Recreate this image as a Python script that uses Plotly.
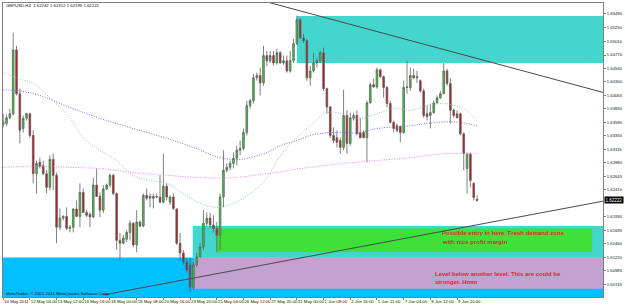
import plotly.graph_objects as go

# ---------------- data ----------------
symbol_title = "GBPUSD,H4  1.62242 1.62312 1.62199 1.62222"
copyright_text = "MetaTrader, © 2001-2011 MetaQuotes Software Corp."

bars = list(range(143))
open_ = [1.6355, 1.6357, 1.6367, 1.6374, 1.6486, 1.6409, 1.6348, 1.6366, 1.6374, 1.6336,
         1.6269, 1.6289, 1.6283, 1.6269, 1.6245, 1.6294, 1.6266, 1.6175, 1.6191, 1.6194,
         1.6173, 1.6175, 1.6207, 1.6194, 1.6236, 1.6201, 1.6198, 1.6193, 1.6249, 1.6229,
         1.6205, 1.6242, 1.6249, 1.6266, 1.6234, 1.6152, 1.6147, 1.6154, 1.6166, 1.6182,
         1.6144, 1.6184, 1.6177, 1.6231, 1.6229, 1.6229, 1.6229, 1.6228, 1.6219, 1.6247,
         1.6219, 1.6228, 1.6207, 1.6147, 1.6130, 1.6114, 1.6109, 1.6070, 1.6109, 1.6124,
         1.6140, 1.6182, 1.6191, 1.6179, 1.6173, 1.6161, 1.6228, 1.6275, 1.6280, 1.6287,
         1.6296, 1.6310, 1.6313, 1.6341, 1.6388, 1.6397, 1.6437, 1.6441, 1.6428, 1.6476,
         1.6467, 1.6476, 1.6463, 1.6481, 1.6463, 1.6467, 1.6449, 1.6467, 1.6497, 1.6539,
         1.6507, 1.6502, 1.6437, 1.6449, 1.6463, 1.6467, 1.6481, 1.6418, 1.6386, 1.6336,
         1.6332, 1.6327, 1.6315, 1.6371, 1.6322, 1.6366, 1.6371, 1.6341, 1.6341, 1.6332,
         1.6393, 1.6425, 1.6421, 1.6451, 1.6439, 1.6420, 1.6392, 1.6359, 1.6353, 1.6352,
         1.6341, 1.6420, 1.6420, 1.6441, 1.6437, 1.6432, 1.6414, 1.6374, 1.6371, 1.6376,
         1.6393, 1.6402, 1.6409, 1.6449, 1.6427, 1.6380, 1.6374, 1.6374, 1.6339, 1.6278,
         1.6303, 1.6252, 1.62242]
high = [1.6374, 1.6373, 1.6383, 1.6516, 1.6493, 1.6418, 1.6371, 1.6376, 1.6376, 1.6345,
        1.6292, 1.6297, 1.6292, 1.6275, 1.6301, 1.6304, 1.6271, 1.6208, 1.6196, 1.6210,
        1.6179, 1.6208, 1.6222, 1.6252, 1.6243, 1.6205, 1.6201, 1.6262, 1.6278, 1.6236,
        1.6249, 1.6252, 1.6269, 1.6269, 1.6236, 1.6165, 1.6161, 1.6170, 1.6187, 1.6184,
        1.6205, 1.6187, 1.6234, 1.6243, 1.6234, 1.6234, 1.6234, 1.6266, 1.6304, 1.6252,
        1.6231, 1.6234, 1.6208, 1.6165, 1.6135, 1.6121, 1.6121, 1.6114, 1.6130, 1.6147,
        1.6205, 1.6201, 1.6200, 1.6196, 1.6184, 1.6234, 1.6310, 1.6287, 1.6292, 1.6306,
        1.6318, 1.6327, 1.6348, 1.6397, 1.6400, 1.6444, 1.6446, 1.6455, 1.6493, 1.6484,
        1.6484, 1.6484, 1.6488, 1.6484, 1.6476, 1.6476, 1.6484, 1.6505, 1.6546, 1.6542,
        1.6514, 1.6505, 1.6458, 1.6481, 1.6472, 1.6484, 1.6490, 1.6420, 1.6388, 1.6350,
        1.6345, 1.6332, 1.6416, 1.6380, 1.6376, 1.6376, 1.6380, 1.6367, 1.6345, 1.6397,
        1.6428, 1.6435, 1.6455, 1.6453, 1.6441, 1.6423, 1.6397, 1.6362, 1.6357, 1.6353,
        1.6432, 1.6467, 1.6455, 1.6453, 1.6449, 1.6434, 1.6418, 1.6388, 1.6392, 1.6397,
        1.6406, 1.6414, 1.6463, 1.6453, 1.6437, 1.6383, 1.6380, 1.6376, 1.6341, 1.6306,
        1.6306, 1.6254, 1.62312]
low = [1.6350, 1.6353, 1.6364, 1.6371, 1.6406, 1.6322, 1.6341, 1.6362, 1.6332, 1.6252,
       1.6234, 1.6278, 1.6266, 1.6234, 1.6240, 1.6240, 1.6147, 1.6170, 1.6187, 1.6170,
       1.6166, 1.6166, 1.6193, 1.6175, 1.6200, 1.6193, 1.6175, 1.6191, 1.6228, 1.6193,
       1.6200, 1.6240, 1.6245, 1.6231, 1.6135, 1.6117, 1.6145, 1.6149, 1.6152, 1.6140,
       1.6131, 1.6175, 1.6175, 1.6222, 1.6210, 1.6208, 1.6226, 1.6217, 1.6217, 1.6222,
       1.6214, 1.6205, 1.6144, 1.6117, 1.6109, 1.6096, 1.6061, 1.6065, 1.6105, 1.6121,
       1.6135, 1.6177, 1.6173, 1.6166, 1.6131, 1.6135, 1.6210, 1.6271, 1.6275, 1.6278,
       1.6283, 1.6301, 1.6310, 1.6336, 1.6383, 1.6392, 1.6432, 1.6406, 1.6423, 1.6458,
       1.6463, 1.6458, 1.6460, 1.6462, 1.6460, 1.6446, 1.6446, 1.6463, 1.6495, 1.6505,
       1.6498, 1.6432, 1.6423, 1.6446, 1.6455, 1.6463, 1.6414, 1.6374, 1.6331, 1.6322,
       1.6315, 1.6304, 1.6310, 1.6304, 1.6318, 1.6362, 1.6336, 1.6331, 1.6331, 1.6289,
       1.6392, 1.6420, 1.6418, 1.6437, 1.6402, 1.6385, 1.6357, 1.6341, 1.6341, 1.6324,
       1.6339, 1.6409, 1.6414, 1.6435, 1.6428, 1.6411, 1.6367, 1.6362, 1.6348, 1.6374,
       1.6392, 1.6400, 1.6409, 1.6423, 1.6357, 1.6367, 1.6366, 1.6336, 1.6275, 1.6234,
       1.6245, 1.6222, 1.62199]
close = [1.6360, 1.6367, 1.6374, 1.6486, 1.6409, 1.6345, 1.6366, 1.6374, 1.6336, 1.6269,
         1.6287, 1.6282, 1.6269, 1.6245, 1.6294, 1.6266, 1.6175, 1.6191, 1.6194, 1.6173,
         1.6175, 1.6207, 1.6194, 1.6236, 1.6201, 1.6196, 1.6193, 1.6249, 1.6229, 1.6205,
         1.6242, 1.6249, 1.6266, 1.6234, 1.6152, 1.6147, 1.6156, 1.6166, 1.6182, 1.6144,
         1.6184, 1.6177, 1.6231, 1.6226, 1.6226, 1.6226, 1.6228, 1.6219, 1.6247, 1.6228,
         1.6228, 1.6208, 1.6147, 1.6130, 1.6114, 1.6100, 1.6070, 1.6109, 1.6123, 1.6140,
         1.6182, 1.6191, 1.6179, 1.6173, 1.6161, 1.6228, 1.6275, 1.6280, 1.6287, 1.6296,
         1.6310, 1.6313, 1.6341, 1.6388, 1.6397, 1.6437, 1.6441, 1.6428, 1.6476, 1.6467,
         1.6476, 1.6463, 1.6481, 1.6463, 1.6467, 1.6449, 1.6467, 1.6497, 1.6539, 1.6507,
         1.6502, 1.6437, 1.6449, 1.6463, 1.6467, 1.6481, 1.6418, 1.6386, 1.6336, 1.6327,
         1.6324, 1.6315, 1.6371, 1.6322, 1.6367, 1.6371, 1.6339, 1.6332, 1.6332, 1.6393,
         1.6425, 1.6421, 1.6451, 1.6439, 1.6420, 1.6392, 1.6359, 1.6348, 1.6345, 1.6341,
         1.6420, 1.6421, 1.6441, 1.6437, 1.6439, 1.6414, 1.6371, 1.6369, 1.6376, 1.6393,
         1.6402, 1.6409, 1.6449, 1.6427, 1.6380, 1.6371, 1.6367, 1.6339, 1.6304, 1.6303,
         1.6257, 1.6227, 1.62222]
last_price_label = "1.62222"
last_price = 1.62222

x_tick_bars = [0, 8, 16, 24, 32, 40, 48, 56, 64, 72, 80, 88, 96, 104, 112, 120, 128, 136]
x_tick_labels = ["10 May 2011", "12 May 04:00", "13 May 12:00", "16 May 16:00", "18 May 00:00",
                 "19 May 08:00", "20 May 16:00", "23 May 20:00", "25 May 04:00", "26 May 12:00",
                 "27 May 20:00", "31 May 00:00", "1 Jun 08:00", "2 Jun 16:00", "5 Jun 21:00",
                 "7 Jun 04:00", "8 Jun 12:00", "9 Jun 20:00"]
# the 1.62170 label is hidden behind the current-price box in the reference
y_tick_labels = ["1.60510", "1.60745", "1.60985", "1.61220", "1.61460", "1.61695", "1.61930",
                 "1.62410", "1.62645", "1.62880", "1.63115", "1.63355", "1.63590",
                 "1.63830", "1.64065", "1.64300", "1.64540", "1.64770", "1.65010", "1.65250",
                 "1.65490"]
y_tick_values = [float(t) for t in y_tick_labels]

# moving averages (sampled along the dotted lines)
ma_fast_bars = [0, 5, 9, 14, 20, 24, 29, 34, 39, 44, 49, 54, 59, 64, 69, 74, 79, 83, 88, 92,
                97, 102, 107, 112, 117, 122, 127, 132, 134, 138, 142]
ma_fast_vals = [1.6446, 1.6435, 1.6427, 1.6402, 1.6367, 1.6332, 1.6310, 1.6292, 1.6266, 1.6257,
                1.6252, 1.6234, 1.6217, 1.6210, 1.6217, 1.6234, 1.6262, 1.6300, 1.6332, 1.6353,
                1.6376, 1.6374, 1.6366, 1.6374, 1.6383, 1.6380, 1.6388, 1.6392, 1.6390, 1.6383,
                1.6362]
ma_mid_bars = [0, 5, 11, 20, 29, 39, 49, 57, 65, 71, 79, 83, 88, 92, 98, 107, 112, 122, 127,
               134, 138, 142]
ma_mid_vals = [1.6416, 1.6414, 1.6406, 1.6385, 1.6366, 1.6348, 1.6331, 1.6315, 1.6297, 1.6294,
               1.6306, 1.6318, 1.6327, 1.6336, 1.6341, 1.6341, 1.6348, 1.6353, 1.6357, 1.6360,
               1.6358, 1.6353]
ma_slow_bars = [0, 10, 20, 29, 39, 49, 59, 69, 79, 83, 88, 92, 102, 112, 122, 132, 137, 142]
ma_slow_vals = [1.6280, 1.6282, 1.6280, 1.6278, 1.6271, 1.6266, 1.6262, 1.6262, 1.6269, 1.6272,
                1.6277, 1.6280, 1.6287, 1.6292, 1.6297, 1.6304, 1.6304, 1.6304]

# trend lines (two anchor points each: bar, price)
trend_down_bars = [78, 180]
trend_down_prices = [1.65717, 1.64110]
trend_up_bars = [30, 180]
trend_up_prices = [1.60562, 1.62210]

# zones: (bar_from, bar_to, price_low, price_high)
zone_supply_top = (88, 200, 1.64630, 1.65455)
zone_demand_outer = (56.8, 200, 1.61230, 1.61770)
zone_demand_inner = (64, 176.5, 1.61310, 1.61730)
zone_level_below = (57.3, 200, 1.60670, 1.61230)
zone_blue_base = (-10, 200, 1.60400, 1.61220)

note1_lines = ["Possible entry in here. Fresh demand zone", "with nice profit margin"]
note2_lines = ["Level below another level. This are could be", "stronger. Hmm"]

# ---------------- figure ----------------
fig = go.Figure()

def zone(z, color):
    fig.add_shape(type="rect", xref="x", yref="y", x0=z[0], x1=z[1], y0=z[2], y1=z[3],
                  fillcolor=color, line=dict(width=0), layer="below")

zone(zone_blue_base, "#00BFFF")
zone(zone_level_below, "#C3A2D2")
zone(zone_demand_outer, "#44D6CE")
zone(zone_supply_top, "#44D6CE")
zone(zone_demand_inner, "#3EE03A")

for bx, vals, col in [(ma_slow_bars, ma_slow_vals, "#EE82EE"),
                      (ma_mid_bars, ma_mid_vals, "#6F6FE6"),
                      (ma_fast_bars, ma_fast_vals, "#9EC2B2")]:
    fig.add_trace(go.Scatter(x=bx, y=vals, mode="lines", hoverinfo="skip",
                             line=dict(color=col, width=1, dash="1px,1.5px", shape="spline")))

fig.add_trace(go.Candlestick(
    x=bars, open=open_, high=high, low=low, close=close, whiskerwidth=0,
    increasing=dict(fillcolor="#2FD82F", line=dict(color="#606060", width=0.8)),
    decreasing=dict(fillcolor="#D01010", line=dict(color="#606060", width=0.8)),
    hoverinfo="skip"))

for bx, py in [(trend_down_bars, trend_down_prices), (trend_up_bars, trend_up_prices)]:
    fig.add_trace(go.Scatter(x=bx, y=py, mode="lines", hoverinfo="skip",
                             line=dict(color="#4a4a4a", width=1)))

small = dict(family="Liberation Sans", size=4.3, color="#111111")
red_font = dict(family="Liberation Sans", size=6, color="#E8202E")

fig.add_annotation(xref="paper", yref="paper", x=0.002, y=0.99, xanchor="left", yanchor="middle",
                   text=symbol_title, showarrow=False, font=small)
fig.add_annotation(xref="paper", yref="paper", x=0.002, y=0.012, xanchor="left", yanchor="middle",
                   text=copyright_text, showarrow=False, font=small)
for k, t in enumerate(note1_lines):
    fig.add_annotation(x=130.9, y=[1.61650, 1.61490][k], xanchor="left", yanchor="middle",
                       text="<b>%s</b>" % t, showarrow=False, font=red_font)
for k, t in enumerate(note2_lines):
    fig.add_annotation(x=128.9, y=[1.60930, 1.60790][k], xanchor="left", yanchor="middle",
                       text="<b>%s</b>" % t, showarrow=False, font=red_font)
fig.add_annotation(xref="paper", x=1.0, y=last_price, xanchor="left", yanchor="middle",
                   text=last_price_label, showarrow=False, bgcolor="#000000", xshift=1,
                   borderpad=0.5, font=dict(family="Liberation Sans", size=4.5, color="#FFFFFF"))

fig.update_layout(
    width=625, height=306,
    margin=dict(l=2, r=16, t=2, b=9),
    paper_bgcolor="white", plot_bgcolor="white",
    showlegend=False,
    xaxis=dict(range=[-0.05, 179.73], tickvals=x_tick_bars, ticktext=x_tick_labels,
               tickangle=0, ticks="outside", ticklen=2, tickcolor="#808080",
               showgrid=False, zeroline=False,
               showline=True, linecolor="#808080", linewidth=1, mirror=True,
               ticklabelposition="outside right", tickfont=small,
               rangeslider=dict(visible=False), fixedrange=True),
    yaxis=dict(side="right", range=[1.60527, 1.65682], tickvals=y_tick_values,
               ticktext=y_tick_labels, ticks="outside", ticklen=2, tickcolor="#808080",
               showgrid=False, zeroline=False, showline=True, linecolor="#808080", linewidth=1,
               mirror=True, tickfont=dict(family="Liberation Sans", size=4.2, color="#111111"),
               fixedrange=True),
)

fig.write_html("out.html")
